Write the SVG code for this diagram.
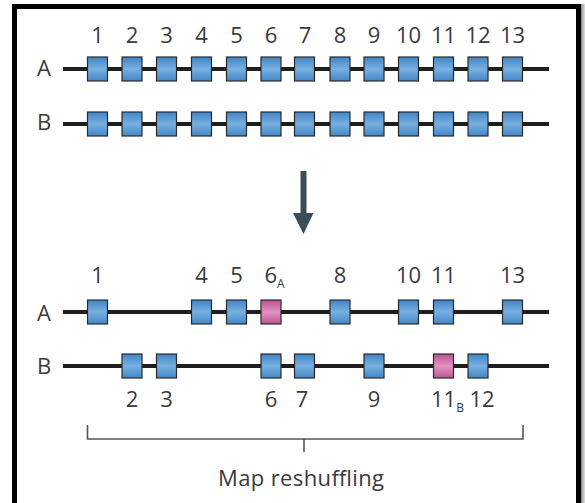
<svg xmlns="http://www.w3.org/2000/svg" width="585" height="503" viewBox="0 0 585 503">
  <defs>
    <linearGradient id="blueFill" x1="0" y1="0" x2="0" y2="1">
      <stop offset="0" stop-color="#3f84c6"/>
      <stop offset="0.5" stop-color="#78b0e0"/>
      <stop offset="1" stop-color="#4286c7"/>
    </linearGradient>
    <linearGradient id="pinkFill" x1="0" y1="0" x2="0" y2="1">
      <stop offset="0" stop-color="#b9528f"/>
      <stop offset="0.5" stop-color="#e193c3"/>
      <stop offset="1" stop-color="#bb5692"/>
    </linearGradient>
    <linearGradient id="edgeShade" x1="0" y1="0" x2="1" y2="0">
      <stop offset="0" stop-color="#8a8a8a"/>
      <stop offset="1" stop-color="#e0e0e0"/>
    </linearGradient>
  </defs>
  <style>
    text { font-family: "Open Sans", "Liberation Sans", sans-serif; fill: #3a3a3a; }
    .num { font-size: 22px; text-anchor: middle; }
    .sub { font-size: 12px; }
    .chr { font-size: 22px; text-anchor: middle; }
    .chrom { stroke: #1e1e1e; stroke-width: 4; fill: none; }
    .blue { fill: url(#blueFill); stroke: #2a2a2a; stroke-width: 1.2; }
    .pink { fill: url(#pinkFill); stroke: #2a2a2a; stroke-width: 1.2; }
    .bracket { stroke: #555; stroke-width: 1.6; fill: none; }
  </style>

  <rect width="585" height="503" fill="#ffffff"/>
  <!-- frame -->
  <rect x="581" y="4" width="4" height="499" fill="url(#edgeShade)"/>
  <rect x="12" y="4" width="569" height="5" fill="#000"/>
  <rect x="12" y="4" width="5" height="499" fill="#000"/>
  <rect x="576" y="4" width="5" height="499" fill="#000"/>

  <!-- top: parental maps -->
  <g id="labels-top">
    <text class="num" x="97.5" y="43">1</text>
    <text class="num" x="132" y="43">2</text>
    <text class="num" x="166.5" y="43">3</text>
    <text class="num" x="201.5" y="43">4</text>
    <text class="num" x="236.5" y="43">5</text>
    <text class="num" x="271" y="43">6</text>
    <text class="num" x="305" y="43">7</text>
    <text class="num" x="340" y="43">8</text>
    <text class="num" x="374" y="43">9</text>
    <text class="num" x="408.5" y="43">10</text>
    <text class="num" x="443.5" y="43">11</text>
    <text class="num" x="478" y="43">12</text>
    <text class="num" x="512.5" y="43">13</text>
  </g>

  <g id="map-A-top">
    <text class="chr" x="44" y="76">A</text>
    <line class="chrom" x1="63" y1="69" x2="549" y2="69"/>
    <rect class="blue" x="87.5" y="57" width="20" height="24"/>
    <rect class="blue" x="122" y="57" width="20" height="24"/>
    <rect class="blue" x="156.5" y="57" width="20" height="24"/>
    <rect class="blue" x="191.5" y="57" width="20" height="24"/>
    <rect class="blue" x="226.5" y="57" width="20" height="24"/>
    <rect class="blue" x="261" y="57" width="20" height="24"/>
    <rect class="blue" x="294.5" y="57" width="20" height="24"/>
    <rect class="blue" x="330" y="57" width="20" height="24"/>
    <rect class="blue" x="364" y="57" width="20" height="24"/>
    <rect class="blue" x="398.5" y="57" width="20" height="24"/>
    <rect class="blue" x="433.5" y="57" width="20" height="24"/>
    <rect class="blue" x="468" y="57" width="20" height="24"/>
    <rect class="blue" x="502.5" y="57" width="20" height="24"/>
  </g>

  <g id="map-B-top">
    <text class="chr" x="44" y="130">B</text>
    <line class="chrom" x1="63" y1="124" x2="549" y2="124"/>
    <rect class="blue" x="87.5" y="112" width="20" height="24"/>
    <rect class="blue" x="122" y="112" width="20" height="24"/>
    <rect class="blue" x="156.5" y="112" width="20" height="24"/>
    <rect class="blue" x="191.5" y="112" width="20" height="24"/>
    <rect class="blue" x="226.5" y="112" width="20" height="24"/>
    <rect class="blue" x="261" y="112" width="20" height="24"/>
    <rect class="blue" x="294.5" y="112" width="20" height="24"/>
    <rect class="blue" x="330" y="112" width="20" height="24"/>
    <rect class="blue" x="364" y="112" width="20" height="24"/>
    <rect class="blue" x="398.5" y="112" width="20" height="24"/>
    <rect class="blue" x="433.5" y="112" width="20" height="24"/>
    <rect class="blue" x="468" y="112" width="20" height="24"/>
    <rect class="blue" x="502.5" y="112" width="20" height="24"/>
  </g>

  <!-- transition arrow -->
  <g id="connectors">
    <rect x="300.5" y="171" width="6" height="44" fill="#3c4d5a"/>
    <polygon points="293,213 313.5,213 303.5,234" fill="#3c4d5a"/>
  </g>

  <!-- bottom: reshuffled maps -->
  <g id="map-A-bottom">
    <text class="num" x="97.5" y="283">1</text>
    <text class="num" x="201.5" y="283">4</text>
    <text class="num" x="236.5" y="283">5</text>
    <text x="264.5" y="283" style="font-size:22px">6<tspan class="sub" dy="5">A</tspan></text>
    <text class="num" x="340" y="283">8</text>
    <text class="num" x="408.5" y="283">10</text>
    <text class="num" x="443.5" y="283">11</text>
    <text class="num" x="512.5" y="283">13</text>
    <text class="chr" x="44" y="321">A</text>
    <line class="chrom" x1="63" y1="312" x2="549" y2="312"/>
    <rect class="blue" x="87.5" y="300" width="20" height="24"/>
    <rect class="blue" x="191.5" y="300" width="20" height="24"/>
    <rect class="blue" x="226.5" y="300" width="20" height="24"/>
    <rect class="pink" x="261" y="300" width="20" height="24"/>
    <rect class="blue" x="330" y="300" width="20" height="24"/>
    <rect class="blue" x="398.5" y="300" width="20" height="24"/>
    <rect class="blue" x="433.5" y="300" width="20" height="24"/>
    <rect class="blue" x="502.5" y="300" width="20" height="24"/>
  </g>

  <g id="map-B-bottom">
    <text class="chr" x="44" y="374">B</text>
    <line class="chrom" x1="63" y1="366" x2="549" y2="366"/>
    <rect class="blue" x="122" y="354" width="20" height="24"/>
    <rect class="blue" x="156.5" y="354" width="20" height="24"/>
    <rect class="blue" x="261" y="354" width="20" height="24"/>
    <rect class="blue" x="294.5" y="354" width="20" height="24"/>
    <rect class="blue" x="364" y="354" width="20" height="24"/>
    <rect class="pink" x="433.5" y="354" width="20" height="24"/>
    <rect class="blue" x="468" y="354" width="20" height="24"/>
    <text class="num" x="132" y="407">2</text>
    <text class="num" x="166.5" y="407">3</text>
    <text class="num" x="271" y="407">6</text>
    <text class="num" x="302" y="407">7</text>
    <text class="num" x="374" y="407">9</text>
    <text x="431" y="407" style="font-size:22px">11<tspan class="sub" dy="5">B</tspan></text>
    <text class="num" x="482" y="407">12</text>
  </g>

  <g id="bracket">
    <path class="bracket" d="M87.5,425 V439 H523 V425 M304,439 V452"/>
    <text x="301" y="486" style="font-size:22px;text-anchor:middle" textLength="166" lengthAdjust="spacing">Map reshuffling</text>
  </g>
</svg>
